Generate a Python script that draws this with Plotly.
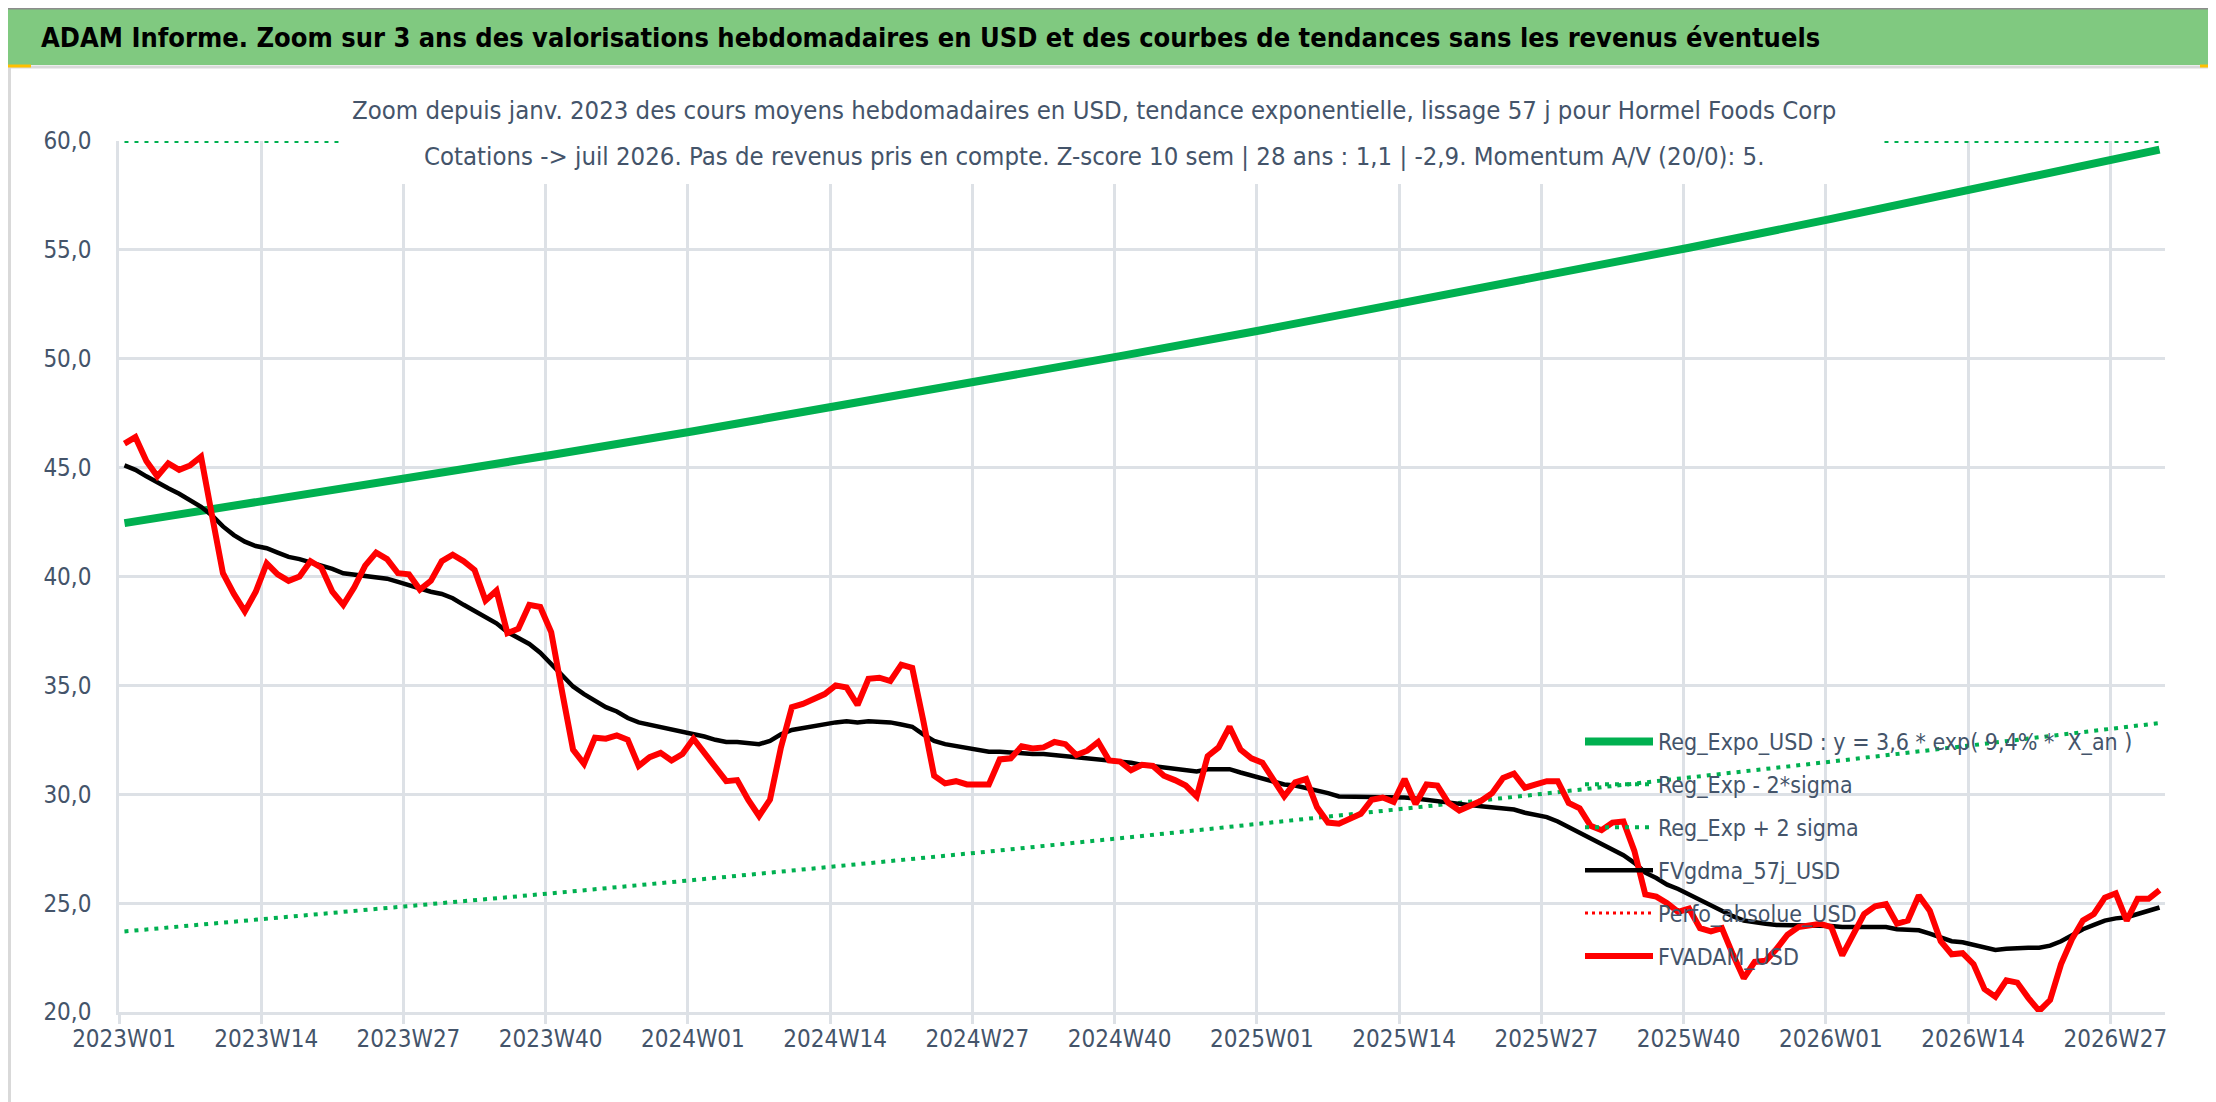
import plotly.graph_objects as go

# ---------------- data ----------------
START_YEAR = 2023
N_WEEKS = 187  # 2023W01 .. 2026W31


def week_labels(n, year=START_YEAR):
    out, w = [], 1
    for _ in range(n):
        out.append(f"{year}W{w:02d}")
        w += 1
        if w > 52:
            year, w = year + 1, 1
    return out


WEEKS = week_labels(N_WEEKS)

TICK_LABELS = ["2023W01", "2023W14", "2023W27", "2023W40", "2024W01", "2024W14",
               "2024W27", "2024W40", "2025W01", "2025W14", "2025W27", "2025W40",
               "2026W01", "2026W14", "2026W27"]

FVADAM_USD = [
    46.1, 46.4, 45.3, 44.6, 45.2, 44.9, 45.1, 45.5, 42.8, 40.15,
    39.2, 38.4, 39.3, 40.6, 40.1, 39.8, 40.0, 40.7, 40.4, 39.3,
    38.7, 39.5, 40.5, 41.1, 40.8, 40.15, 40.1, 39.4, 39.8, 40.7,
    41.0, 40.7, 40.3, 38.9, 39.35, 37.4, 37.6, 38.7, 38.6, 37.45,
    34.7, 32.05, 31.4, 32.6, 32.55, 32.7, 32.5, 31.3, 31.7, 31.9,
    31.55, 31.85, 32.55, 31.9, 31.15, 30.6, 30.65, 29.75, 29.0, 29.75,
    32.15, 34.0, 34.15, 34.4, 34.6, 35.0, 34.9, 34.1, 35.3, 35.35,
    35.2, 35.95, 35.8, 33.4, 30.85, 30.5, 30.6, 30.45, 30.45, 30.45,
    31.6, 31.65, 32.2, 32.1, 32.15, 32.4, 32.3, 31.8, 32.0, 32.4,
    31.55, 31.5, 31.1, 31.35, 31.3, 30.85, 30.65, 30.4, 29.9, 31.75,
    32.15, 33.1, 32.05, 31.65, 31.45, 30.7, 29.9, 30.55, 30.7, 29.4,
    28.7, 28.65, 28.9, 29.1, 29.75, 29.85, 29.65, 30.7, 29.55, 30.45,
    30.4, 29.6, 29.25, 29.5, 29.7, 30.05, 30.75, 30.95, 30.3, 30.45,
    30.6, 30.6, 29.6, 29.35, 28.55, 28.35, 28.7, 28.75, 27.4, 25.4,
    25.3, 25.0, 24.6, 24.75, 23.85, 23.7, 23.85, 22.65, 21.55, 22.3,
    22.35, 22.9, 23.55, 23.9, 24.0, 24.05, 23.9, 22.6, 23.55, 24.5,
    24.85, 24.95, 24.05, 24.2, 25.35, 24.65, 23.25, 22.65, 22.7, 22.2,
    21.05, 20.7, 21.45, 21.35, 20.65, 20.05, 20.55, 22.2, 23.35, 24.2,
    24.5, 25.25, 25.45, 24.2, 25.2, 25.2, 25.6,
]

FVGDMA_57J_USD = [
    45.1, 44.9, 44.6, 44.3, 44.05, 43.8, 43.5, 43.2, 42.8, 42.3,
    41.9, 41.6, 41.4, 41.3, 41.1, 40.9, 40.8, 40.65, 40.55, 40.35,
    40.15, 40.1, 40.05, 40.0, 39.9, 39.75, 39.6, 39.4, 39.3, 39.2,
    39.0, 38.7, 38.4, 38.1, 37.85, 37.45, 37.2, 36.9, 36.5, 36.0,
    35.5, 34.95, 34.6, 34.3, 34.0, 33.8, 33.5, 33.3, 33.2, 33.1,
    32.95, 32.85, 32.75, 32.65, 32.5, 32.4, 32.4, 32.35, 32.3, 32.45,
    32.75, 32.95, 33.05, 33.15, 33.25, 33.3, 33.35, 33.3, 33.35, 33.35,
    33.3, 33.2, 33.1, 32.75, 32.45, 32.3, 32.2, 32.1, 32.0, 31.95,
    31.95, 31.9, 31.9, 31.85, 31.85, 31.8, 31.8, 31.7, 31.65, 31.6,
    31.55, 31.5, 31.45, 31.35, 31.3, 31.25, 31.2, 31.1, 31.05, 31.15,
    31.15, 31.15, 31.0, 30.85, 30.75, 30.6, 30.45, 30.4, 30.3, 30.15,
    30.05, 29.9, 29.9, 29.9, 29.9, 29.9, 29.85, 29.85, 29.8, 29.75,
    29.7, 29.65, 29.55, 29.5, 29.45, 29.4, 29.35, 29.3, 29.15, 29.05,
    28.95, 28.75, 28.5, 28.2, 27.95, 27.7, 27.5, 27.2, 26.85, 26.4,
    26.15, 25.85, 25.65, 25.4, 25.1, 24.9, 24.65, 24.4, 24.2, 24.1,
    24.05, 24.0, 24.0, 24.0, 24.0, 23.95, 23.95, 23.9, 23.9, 23.9,
    23.9, 23.9, 23.8, 23.75, 23.75, 23.6, 23.4, 23.25, 23.2, 23.1,
    22.95, 22.85, 22.9, 22.95, 22.95, 22.95, 23.05, 23.25, 23.55, 23.8,
    24.0, 24.2, 24.3, 24.35, 24.5, 24.65, 24.8,
]

# trend curves, read at the labelled weeks and at the last week
TREND_WEEKS = TICK_LABELS + ["2026W31"]
REG_EXPO_USD = [42.45, 43.47, 44.51, 45.58, 46.67, 47.79, 48.94, 50.12,
                51.32, 52.55, 53.81, 55.10, 56.42, 57.78, 59.16, 59.6]
REG_EXP_MINUS_2SIGMA = [23.7, 24.27, 24.85, 25.45, 26.06, 26.68, 27.32, 27.98,
                        28.65, 29.34, 30.04, 30.76, 31.50, 32.26, 33.03, 33.27]
REG_EXP_PLUS_2SIGMA = [61.2, 62.67, 64.17, 65.71, 67.28, 68.9, 70.56, 72.26,
                       73.99, 75.76, 77.58, 79.44, 81.34, 83.3, 85.29, 85.93]
PERFO_ABSOLUE_USD = [None] * N_WEEKS

Y_MIN, Y_MAX = 20.0, 60.0
Y_TICKS = [20, 25, 30, 35, 40, 45, 50, 55, 60]

TITLE = ("ADAM Informe. Zoom sur 3 ans des valorisations hebdomadaires en USD "
         "et des courbes de tendances sans les revenus éventuels")
SUB1 = ("Zoom depuis janv. 2023 des cours moyens hebdomadaires en USD, tendance "
        "exponentielle, lissage 57 j pour Hormel Foods Corp")
SUB2 = ("Cotations -> juil 2026. Pas de revenus pris en compte. Z-score 10 sem | "
        "28 ans : 1,1 | -2,9. Momentum A/V (20/0): 5.")

# ---------------- layout constants ----------------
W, H = 2216, 1102
L, R, T, B = 111, 59, 133, 98
PW, PH = W - L - R, H - T - B
FONT = "DejaVu Sans Condensed, Liberation Sans Narrow, sans-serif"
TXT = "#44546A"
GRID = "#DDE1E6"
GOLD = "#FFC000"


def px(x):
    return (x - L) / PW


def py(y):
    return (H - B - y) / PH


idx = {w: i for i, w in enumerate(WEEKS)}
x_all = list(range(N_WEEKS))
x_trend = [idx[w] for w in TREND_WEEKS]
upper_shown = [min(v, Y_MAX) for v in REG_EXP_PLUS_2SIGMA]

fig = go.Figure()
fig.add_trace(go.Scatter(x=x_trend, y=REG_EXPO_USD, mode="lines",
                         name="Reg_Expo_USD : y = 3,6 * exp( 9,4% *  X_an )",
                         line=dict(color="#00B050", width=8), legendrank=1,
                         legendgroup="a"))
fig.add_trace(go.Scatter(x=x_trend, y=REG_EXP_MINUS_2SIGMA, mode="lines",
                         name="Reg_Exp - 2*sigma",
                         line=dict(color="#00B050", width=4, dash="4px,6px"),
                         legendrank=2, legendgroup="b"))
fig.add_trace(go.Scatter(x=x_trend, y=upper_shown, mode="lines",
                         name="Reg_Exp + 2 sigma", cliponaxis=False,
                         line=dict(color="#00B050", width=4, dash="4px,6px"),
                         legendrank=3, legendgroup="c"))
fig.add_trace(go.Scatter(x=x_all, y=PERFO_ABSOLUE_USD, mode="lines",
                         name="Perfo_absolue_USD",
                         line=dict(color="#FF0000", width=3, dash="3px,4px"),
                         legendrank=5, legendgroup="e"))
fig.add_trace(go.Scatter(x=x_all, y=FVGDMA_57J_USD, mode="lines",
                         name="FVgdma_57j_USD",
                         line=dict(color="#000000", width=4.5),
                         legendrank=4, legendgroup="d"))
fig.add_trace(go.Scatter(x=x_all, y=FVADAM_USD, mode="lines",
                         name="FVADAM_USD",
                         line=dict(color="#FF0000", width=6),
                         legendrank=6, legendgroup="f"))

shapes = [
    # title bar
    dict(type="rect", xref="paper", yref="paper", x0=px(0), x1=px(2213),
         y0=py(57), y1=py(0), fillcolor="#80C980", line=dict(width=0), layer="above"),
    # chart frame
    dict(type="rect", xref="paper", yref="paper", x0=px(1.5), x1=px(2208.5),
         y0=py(1097.5), y1=py(59), line=dict(color="#D9D9D9", width=3),
         fillcolor="rgba(0,0,0,0)", layer="above"),
    # outer border
    dict(type="line", xref="paper", yref="paper", x0=px(0), x1=px(2216),
         y0=py(0.5), y1=py(0.5), line=dict(color="#8C8C8C", width=2), layer="above"),
    dict(type="line", xref="paper", yref="paper", x0=px(2215), x1=px(2215),
         y0=py(0), y1=py(1102), line=dict(color="#8C8C8C", width=3), layer="above"),
    dict(type="line", xref="paper", yref="paper", x0=px(0), x1=px(2216),
         y0=py(1101), y1=py(1101), line=dict(color="#8C8C8C", width=3), layer="above"),
    # selection handles
    dict(type="line", xref="paper", yref="paper", x0=px(0), x1=px(23),
         y0=py(58), y1=py(58), line=dict(color=GOLD, width=3), layer="above"),
    dict(type="line", xref="paper", yref="paper", x0=px(2192), x1=px(2213),
         y0=py(58), y1=py(58), line=dict(color=GOLD, width=3), layer="above"),
    dict(type="line", xref="paper", yref="paper", x0=px(2211.5), x1=px(2211.5),
         y0=py(57), y1=py(74), line=dict(color=GOLD, width=3), layer="above"),
    dict(type="line", xref="paper", yref="paper", x0=px(2211.5), x1=px(2211.5),
         y0=py(1057), y1=py(1099), line=dict(color=GOLD, width=3), layer="above"),
    dict(type="line", xref="paper", yref="paper", x0=px(2191), x1=px(2213),
         y0=py(1098.5), y1=py(1098.5), line=dict(color=GOLD, width=3), layer="above"),
    dict(type="line", xref="paper", yref="paper", x0=px(0), x1=px(23),
         y0=py(1098.5), y1=py(1098.5), line=dict(color=GOLD, width=3), layer="above"),
    # subtitle background
    dict(type="rect", xref="paper", yref="paper", x0=px(335), x1=px(1874),
         y0=py(176), y1=py(80), fillcolor="white", line=dict(width=0), layer="above"),
]

annotations = [
    dict(text=f"<b>{TITLE}</b>", xref="paper", yref="paper", x=px(31), y=py(30),
         xanchor="left", yanchor="middle", showarrow=False,
         font=dict(family=FONT, size=27, color="#000000")),
    dict(text=SUB1, xref="paper", yref="paper", x=px(1086), y=py(102),
         xanchor="center", yanchor="middle", showarrow=False,
         font=dict(family=FONT, size=25.5, color=TXT)),
    dict(text=SUB2, xref="paper", yref="paper", x=px(1086), y=py(148),
         xanchor="center", yanchor="middle", showarrow=False,
         font=dict(family=FONT, size=25.5, color=TXT)),
]

fig.update_layout(
    width=W, height=H, autosize=False,
    margin=dict(l=L, r=R, t=T, b=B, pad=0),
    paper_bgcolor="white", plot_bgcolor="white",
    font=dict(family=FONT, color=TXT),
    showlegend=True,
    legend=dict(x=px(1572), y=py(712), xanchor="left", yanchor="top",
                bgcolor="rgba(0,0,0,0)", borderwidth=0,
                font=dict(family=FONT, size=23, color=TXT),
                traceorder="grouped", tracegroupgap=10, itemwidth=68),
    shapes=shapes, annotations=annotations,
    hovermode=False,
)

fig.update_xaxes(
    range=[-0.5, N_WEEKS - 0.5],
    tickmode="array",
    tickvals=[idx[t] - 0.5 for t in TICK_LABELS],
    ticktext=TICK_LABELS,
    ticklabelshift=int(round(0.5 * PW / N_WEEKS)),
    ticks="outside", ticklen=9, tickwidth=2.5, tickcolor=GRID,
    ticklabelstandoff=-6,
    showgrid=True, gridcolor=GRID, gridwidth=2.5,
    showline=True, linecolor=GRID, linewidth=2.5,
    zeroline=False,
    tickfont=dict(family=FONT, size=24, color=TXT),
)
fig.update_yaxes(
    range=[Y_MIN, Y_MAX],
    tickmode="array", tickvals=Y_TICKS,
    ticktext=[f"{v:.1f}".replace(".", ",") for v in Y_TICKS],
    ticks="", ticklabelstandoff=20,
    showgrid=True, gridcolor=GRID, gridwidth=2.5,
    showline=True, linecolor=GRID, linewidth=2.5,
    zeroline=False,
    tickfont=dict(family=FONT, size=24, color=TXT),
)

fig.write_html("out.html")
